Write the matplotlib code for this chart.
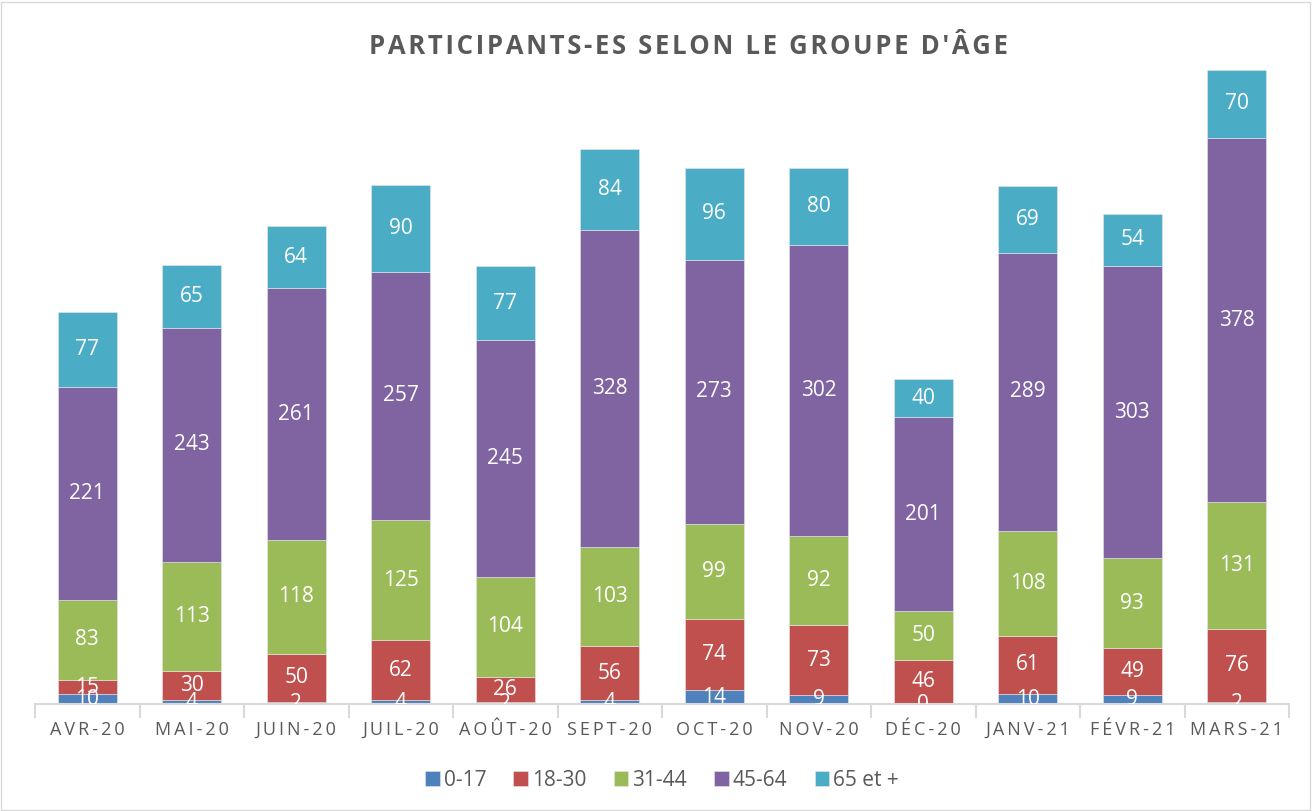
import matplotlib
matplotlib.use('Agg')

import numpy as np
import matplotlib.pyplot as plt
from matplotlib.patches import Rectangle

months = ['AVR-20', 'MAI-20', 'JUIN-20', 'JUIL-20', 'AOÛT-20', 'SEPT-20',
          'OCT-20', 'NOV-20', 'DÉC-20', 'JANV-21', 'FÉVR-21', 'MARS-21']
groups = ['0-17', '18-30', '31-44', '45-64', '65 et +']
g0_17 = [10, 4, 2, 4, 2, 4, 14, 9, 0, 10, 9, 2]
g18_30 = [15, 30, 50, 62, 26, 56, 74, 73, 46, 61, 49, 76]
g31_44 = [83, 113, 118, 125, 104, 103, 99, 92, 50, 108, 93, 131]
g45_64 = [221, 243, 261, 257, 245, 328, 273, 302, 201, 289, 303, 378]
g65 = [77, 65, 64, 90, 77, 84, 96, 80, 40, 69, 54, 70]

colors = ['#4F81BD', '#C0504D', '#9BBB59', '#8064A2', '#4BACC6']
plt.rcParams['font.family'] = ['Open Sans', 'DejaVu Sans']

def spaced(s, sep='\u2009'):
    return sep.join(list(s))

fig = plt.figure(figsize=(13.13, 8.11), dpi=100)
fig.patches.append(Rectangle((0.001, 0.001), 0.997, 0.997, transform=fig.transFigure,
                             fill=False, edgecolor='#D9D9D9', linewidth=1))
ax = fig.add_axes([35 / 1313, 1 - 704 / 811, (1289 - 35) / 1313, 656 / 811])

x = np.arange(len(months))
bottom = np.zeros(len(months))
series = [g0_17, g18_30, g31_44, g45_64, g65]
for vals, col, name in zip(series, colors, groups):
    vals = np.array(vals)
    ax.bar(x, vals, 0.565, bottom=bottom, color=col, label=name,
           edgecolor='#E8E8E8', linewidth=0.4)
    for xi, b, v in zip(x, bottom, vals):
        ax.text(xi, b + v / 2, str(v), ha='center', va='center', color='white',
                fontsize=15, clip_on=True)
    bottom += vals

ax.set_xlim(-0.5, len(months) - 0.5)
ax.set_ylim(0, 680)
ax.set_yticks([])
for s in ['top', 'right', 'left']:
    ax.spines[s].set_visible(False)
ax.spines['bottom'].set_color('#D9D9D9')
ax.spines['bottom'].set_linewidth(1.5)

# separators between months
ax.set_xticks(np.arange(-0.5, len(months)), minor=False)
ax.set_xticklabels([])
ax.tick_params(axis='x', which='major', length=10, width=1.5, color='#D9D9D9')
ax.set_xticks(x, minor=True)
ax.set_xticklabels([spaced(m) for m in months], minor=True, fontsize=13, color='#595959')
ax.tick_params(axis='x', which='minor', length=0, pad=12)

fig.text(688 / 1313, 1 - 46 / 811, spaced('PARTICIPANTS-ES SELON LE GROUPE D\'ÂGE', '\u200a'),
         ha='center', va='center', fontsize=18.5, fontweight='bold', color='#595959')

ax.legend(loc='center', bbox_to_anchor=(0.5, -(780 - 704) / 656), ncol=5,
          frameon=False, fontsize=15, handlelength=0.7, handleheight=0.7,
          handletextpad=0.2, columnspacing=1.3, labelcolor='#595959')

fig.savefig('out.png', dpi=100)
